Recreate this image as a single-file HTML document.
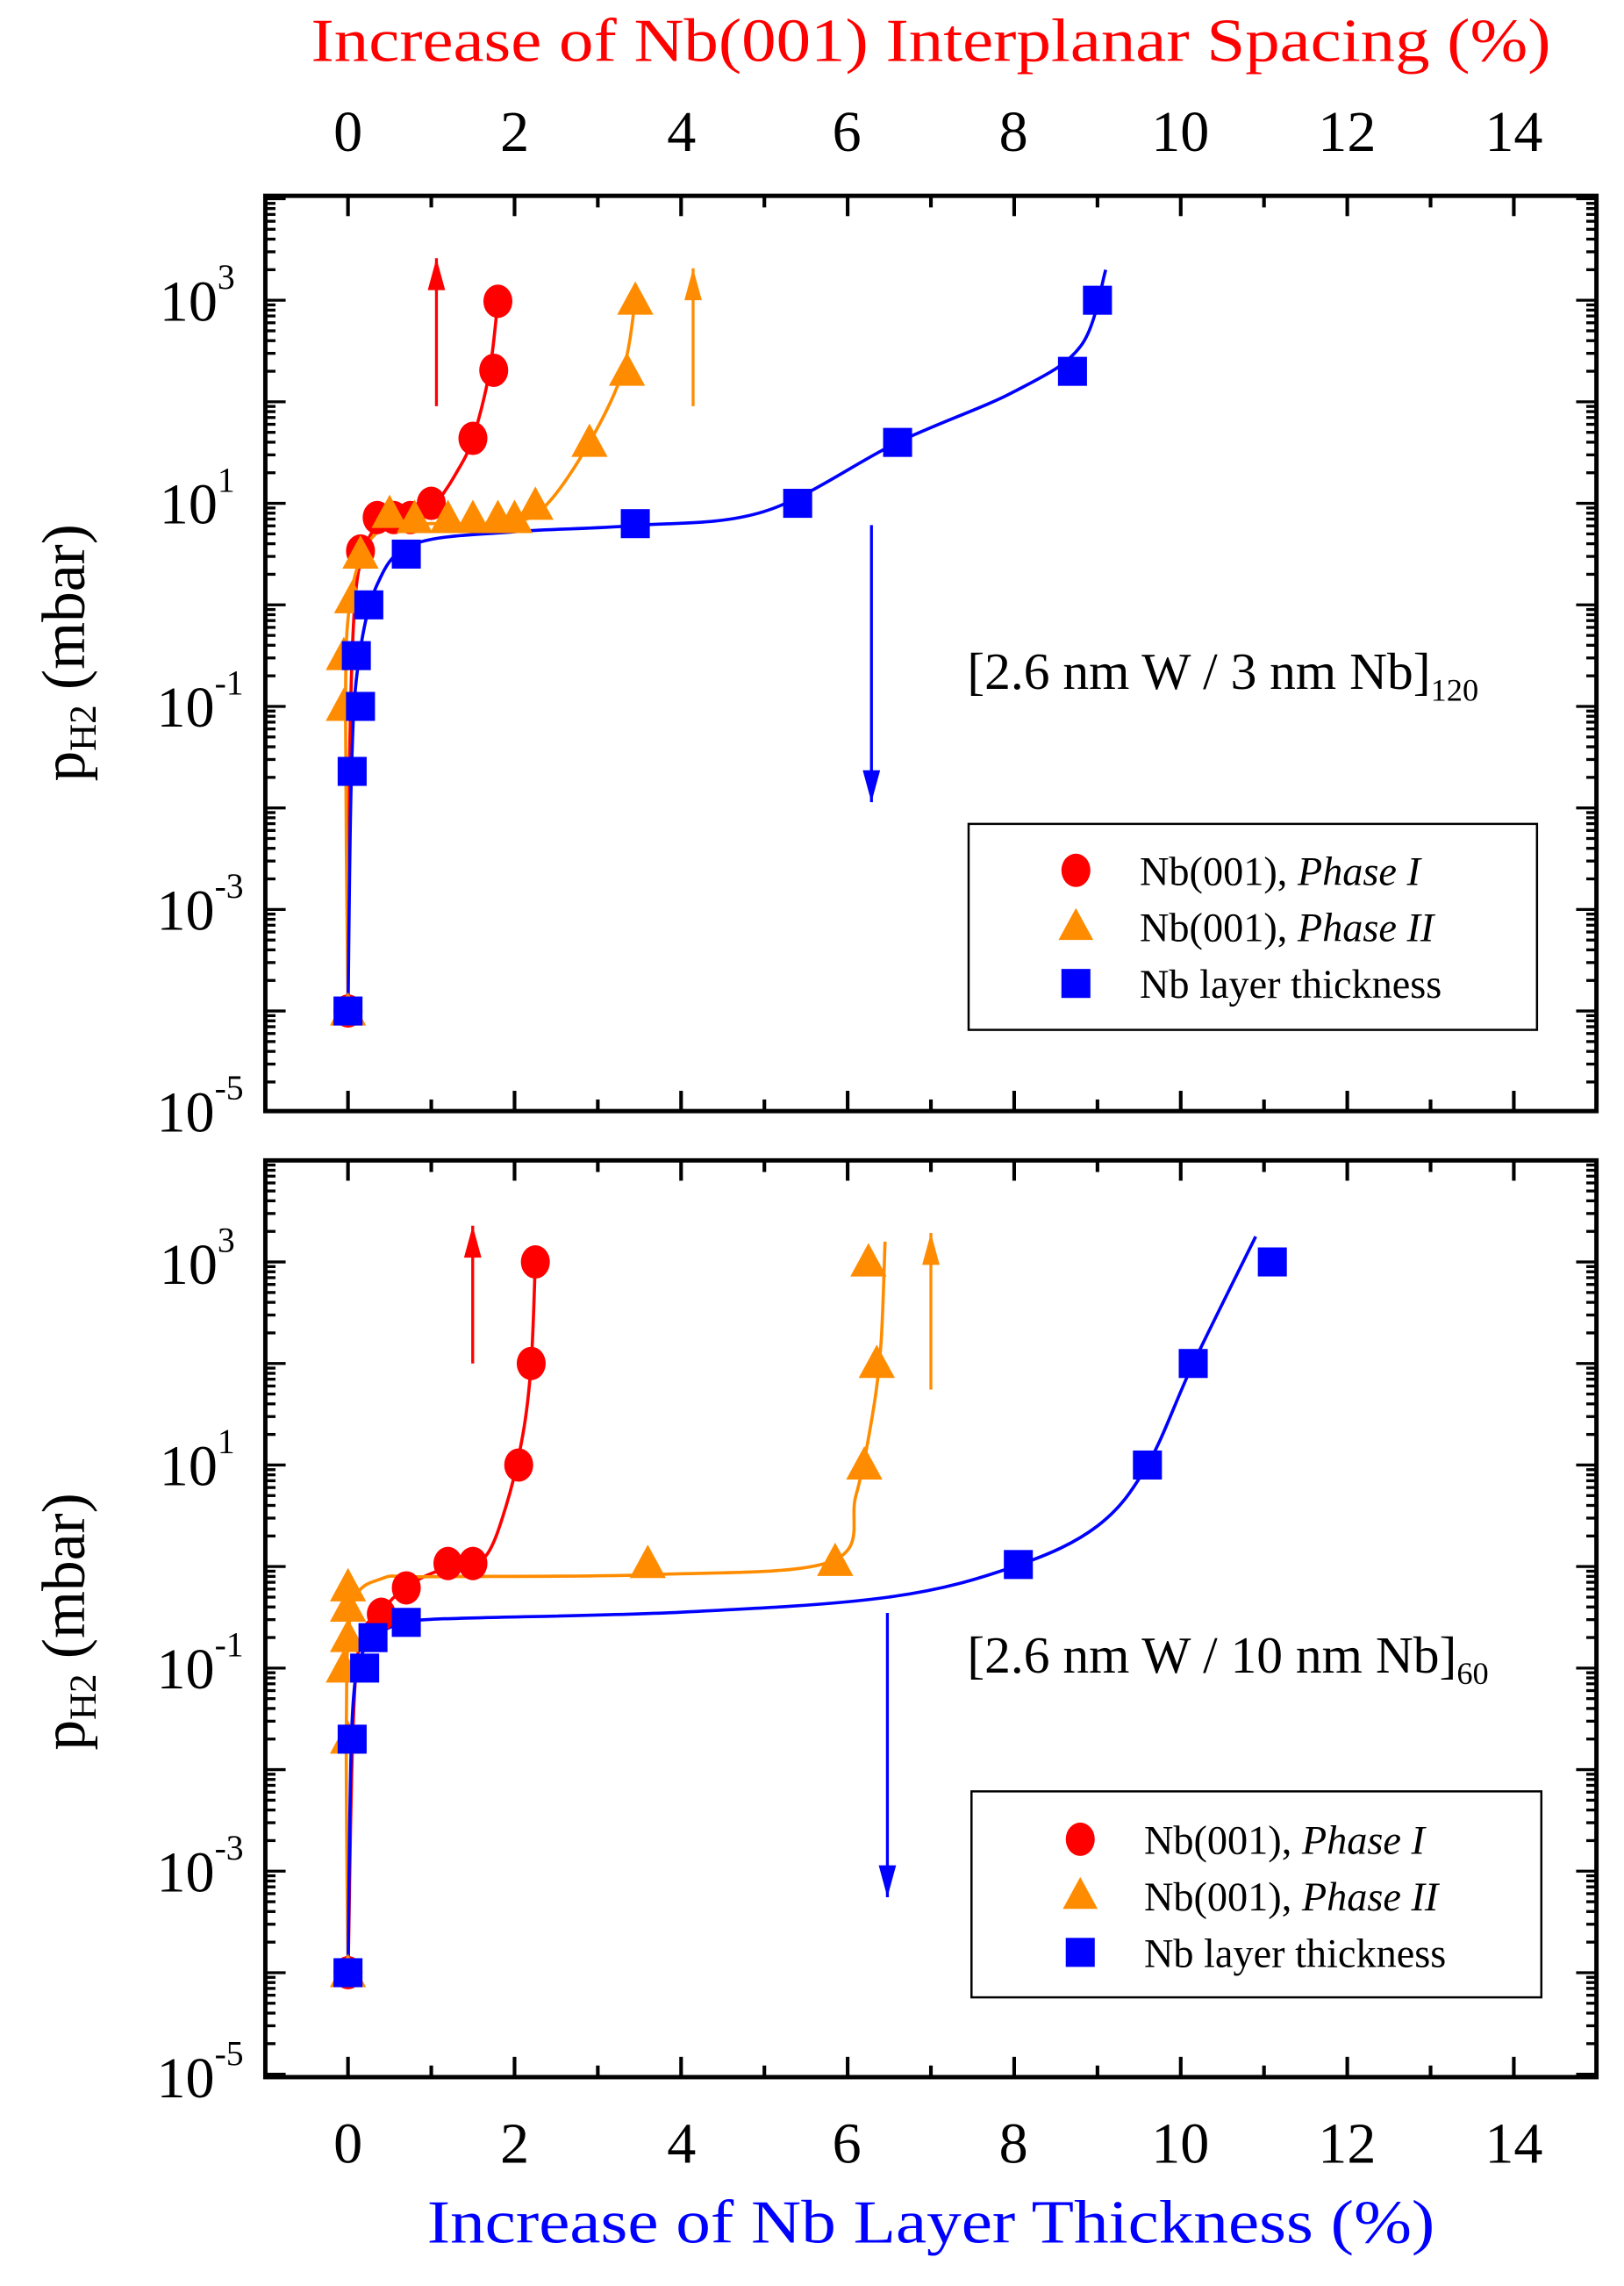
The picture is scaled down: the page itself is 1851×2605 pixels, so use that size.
<!DOCTYPE html>
<html><head><meta charset="utf-8"><style>
html,body{margin:0;padding:0;background:#fff;}
svg{display:block;}
text{font-family:"Liberation Serif","Times New Roman",Times,serif;}
</style></head><body>
<svg id="s" width="1851" height="2605" viewBox="0 0 1120 1576" preserveAspectRatio="none" xmlns="http://www.w3.org/2000/svg" font-family="Liberation Serif, Times New Roman, serif">
<rect width="1120" height="1576" fill="#fff"/>
<text x="642" y="42" font-size="42" fill="#ff0000" text-anchor="middle" textLength="855" lengthAdjust="spacingAndGlyphs">Increase of Nb(001) Interplanar Spacing (%)</text>
<g font-size="40" text-anchor="middle">
<text x="240" y="104">0</text><text x="355" y="104">2</text><text x="470" y="104">4</text><text x="584" y="104">6</text><text x="699" y="104">8</text><text x="814" y="104">10</text><text x="929" y="104">12</text><text x="1044" y="104">14</text>
<text x="240" y="1491">0</text><text x="355" y="1491">2</text><text x="470" y="1491">4</text><text x="584" y="1491">6</text><text x="699" y="1491">8</text><text x="814" y="1491">10</text><text x="929" y="1491">12</text><text x="1044" y="1491">14</text>
</g>
<text x="642" y="1546" font-size="42" fill="#0000ff" text-anchor="middle" textLength="695" lengthAdjust="spacingAndGlyphs">Increase of Nb Layer Thickness (%)</text>
<g font-size="40" text-anchor="end">
<text x="162" y="221">10<tspan font-size="24" dy="-22">3</tspan></text>
<text x="162" y="361">10<tspan font-size="24" dy="-22">1</tspan></text>
<text x="168" y="501">10<tspan font-size="24" dy="-22">-1</tspan></text>
<text x="168" y="641">10<tspan font-size="24" dy="-22">-3</tspan></text>
<text x="168" y="780">10<tspan font-size="24" dy="-22">-5</tspan></text>
<text x="162" y="885">10<tspan font-size="24" dy="-22">3</tspan></text>
<text x="162" y="1024">10<tspan font-size="24" dy="-22">1</tspan></text>
<text x="168" y="1164">10<tspan font-size="24" dy="-22">-1</tspan></text>
<text x="168" y="1304">10<tspan font-size="24" dy="-22">-3</tspan></text>
<text x="168" y="1446">10<tspan font-size="24" dy="-22">-5</tspan></text>
</g>
<text transform="translate(58,450) rotate(-90)" font-size="42" text-anchor="middle">p<tspan font-size="26" dy="8">H2</tspan><tspan dy="-8"> (mbar)</tspan></text>
<text transform="translate(58,1118) rotate(-90)" font-size="42" text-anchor="middle">p<tspan font-size="26" dy="8">H2</tspan><tspan dy="-8"> (mbar)</tspan></text>
<text x="667" y="475" font-size="36">[2.6 nm W / 3 nm Nb]<tspan font-size="22" dy="8">120</tspan></text>
<text x="667" y="1153" font-size="36">[2.6 nm W / 10 nm Nb]<tspan font-size="22" dy="8">60</tspan></text>
<rect x="668" y="568" width="392" height="142" fill="none" stroke="#000" stroke-width="1.5"/>
<rect x="670" y="1235" width="393" height="142" fill="none" stroke="#000" stroke-width="1.5"/>
<g font-size="28">
<text x="786" y="610">Nb(001), <tspan font-style="italic">Phase I</tspan></text>
<text x="786" y="649">Nb(001), <tspan font-style="italic">Phase II</tspan></text>
<text x="786" y="688">Nb layer thickness</text>
<text x="789" y="1278">Nb(001), <tspan font-style="italic">Phase I</tspan></text>
<text x="789" y="1317">Nb(001), <tspan font-style="italic">Phase II</tspan></text>
<text x="789" y="1356">Nb layer thickness</text>
</g>
<g id="g"></g>
</svg>
<script>
var g=document.getElementById('g'),NS="http://www.w3.org/2000/svg";
function el(t,a){var e=document.createElementNS(NS,t);for(var k in a)e.setAttribute(k,a[k]);g.appendChild(e);return e;}
function X(v){return 240+v*57.43;}
function mkY(y1){return function(l){return y1-(l-1)*70;};}
var L=183,R=1101;
function panel(top,bot,y1){
 var Y=mkY(y1);
 el('rect',{x:L,y:top,width:R-L,height:bot-top,fill:'none',stroke:'#000','stroke-width':3});
 for(var v=-1;v<=15;v++){var x=X(v);if(x<L||x>R)continue;var len=(v%2==0)?14:8;
  el('line',{x1:x,y1:top,x2:x,y2:top+len,stroke:'#000','stroke-width':2.5});
  el('line',{x1:x,y1:bot,x2:x,y2:bot-len,stroke:'#000','stroke-width':2.5});}
 for(var d=-5;d<=4;d++){for(var k=1;k<=9;k++){var y=Y(d+Math.log10(k));if(y<top-0.5||y>bot+0.5)continue;var len=(k==1)?14:7;
  el('line',{x1:L,y1:y,x2:L+len,y2:y,stroke:'#000','stroke-width':2});
  el('line',{x1:R,y1:y,x2:R-len,y2:y,stroke:'#000','stroke-width':2});}}
 return Y;
}
function curve(pts,Y,c){var P=pts.map(function(p){return [X(p[0]),Y(p[1])];});
 var s='M'+P[0][0].toFixed(1)+','+P[0][1].toFixed(1);
 for(var i=0;i<P.length-1;i++){var p0=P[Math.max(i-1,0)],p1=P[i],p2=P[i+1],p3=P[Math.min(i+2,P.length-1)];
  var c1=[p1[0]+(p2[0]-p0[0])/6,p1[1]+(p2[1]-p0[1])/6],c2=[p2[0]-(p3[0]-p1[0])/6,p2[1]-(p3[1]-p1[1])/6];
  s+='C'+c1[0].toFixed(1)+','+c1[1].toFixed(1)+' '+c2[0].toFixed(1)+','+c2[1].toFixed(1)+' '+p2[0].toFixed(1)+','+p2[1].toFixed(1);}
 el('path',{d:s,fill:'none',stroke:c,'stroke-width':2.2});}
function circ(pts,Y){pts.forEach(function(p){el('ellipse',{cx:X(p[0]),cy:Y(p[1]),rx:10,ry:11.5,fill:'#ff0000'});});}
function tri(pts,Y){pts.forEach(function(p){var x=X(p[0]),y=Y(p[1]);el('polygon',{points:(x-12.5)+','+(y+10)+' '+(x+12.5)+','+(y+10)+' '+x+','+(y-13),fill:'#ff8c00'});});}
function sq(pts,Y){pts.forEach(function(p){var x=X(p[0]),y=Y(p[1]);el('rect',{x:x-10,y:y-10,width:20,height:20,fill:'#0000ff'});});}
function arrow(x,ya,yb,c){el('line',{x1:x,y1:ya,x2:x,y2:yb,stroke:c,'stroke-width':2});var dir=yb<ya?1:-1;
 el('polygon',{points:(x-6)+','+(yb+dir*22)+' '+(x+6)+','+(yb+dir*22)+' '+x+','+yb,fill:c});}
// top
var Y=panel(135,766,347);
curve([[0,-4],[0.02,-1.5],[0.08,0],[0.2,0.55],[0.4,0.8],[0.8,0.86],[1.05,1.0],[1.3,1.3],[1.5,1.64],[1.7,2.3],[1.8,3.0]],Y,'#ff0000');
curve([[0,-4],[-0.03,-1],[0.02,0],[0.2,0.55],[0.5,0.78],[1,0.8],[2,0.82],[2.4,1.0],[2.9,1.6],[3.3,2.3],[3.45,3.0]],Y,'#ff8c00');
curve([[0,-4],[0.04,-1.7],[0.12,-0.6],[0.35,0.2],[0.8,0.6],[2,0.72],[3.4,0.78],[5.0,0.92],[6.6,1.6],[8.0,2.1],[8.8,2.55],[9.1,3.3]],Y,'#0000ff');
circ([[0,-4],[0.15,0.53],[0.35,0.86],[0.55,0.86],[0.75,0.86],[1.0,1.0],[1.5,1.64],[1.75,2.31],[1.8,2.99]],Y);
tri([[0,-4],[-0.05,-1],[-0.05,-0.5],[0.05,0.06],[0.15,0.5],[0.5,0.9],[0.8,0.85],[1.2,0.85],[1.5,0.85],[1.8,0.85],[2.0,0.85],[2.25,0.98],[2.9,1.6],[3.35,2.3],[3.45,3.0]],Y);
sq([[0,-4],[0.05,-1.64],[0.15,-1.0],[0.1,-0.5],[0.25,0.0],[0.7,0.5],[3.45,0.8],[5.4,1.0],[6.6,1.6],[8.7,2.3],[9.0,3.0]],Y);
arrow(301,280,178,'#ff0000');arrow(478,280,185,'#ff8c00');arrow(601,362,553,'#0000ff');
// bottom
var Y2=panel(800,1432,1010);
curve([[0,-4],[0.1,-1],[0.4,-0.45],[0.8,-0.15],[1.3,0.02],[1.65,0.1],[1.9,0.6],[2.1,1.3],[2.2,2],[2.25,3]],Y2,'#ff0000');
curve([[0,-4],[-0.02,-1.5],[0.05,-0.4],[0.4,-0.12],[1,-0.1],[3.6,-0.08],[5.8,0.05],[6.1,0.7],[6.3,1.5],[6.4,2.2],[6.45,3.2]],Y2,'#ff8c00');
curve([[0,-4],[0.05,-1.5],[0.2,-0.8],[0.5,-0.6],[1,-0.52],[4,-0.45],[6.5,-0.3],[8,0.0],[9.0,0.4],[9.6,1.0],[10.15,2],[10.9,3.25]],Y2,'#0000ff');
circ([[0,-4],[0.4,-0.47],[0.7,-0.21],[1.2,0.03],[1.5,0.03],[2.05,1],[2.2,2],[2.25,3]],Y2);
tri([[0,-4],[0,-1.7],[-0.05,-1],[0,-0.7],[0,-0.4],[0,-0.2],[3.6,0.03],[5.85,0.05],[6.2,1],[6.35,2],[6.25,3]],Y2);
sq([[0,-4],[0.05,-1.7],[0.2,-1],[0.3,-0.7],[0.7,-0.55],[8.05,0.02],[9.6,1],[10.15,2],[11.1,3]],Y2);
arrow(326,940,845,'#ff0000');arrow(642,958,850,'#ff8c00');arrow(612,1112,1308,'#0000ff');
// legend markers
el('ellipse',{cx:742,cy:600,rx:10,ry:11.5,fill:'#ff0000'});
el('polygon',{points:'730,648 754,648 742,626',fill:'#ff8c00'});
el('rect',{x:732,y:668,width:20,height:20,fill:'#0000ff'});
el('ellipse',{cx:745,cy:1268,rx:10,ry:11.5,fill:'#ff0000'});
el('polygon',{points:'733,1316 757,1316 745,1294',fill:'#ff8c00'});
el('rect',{x:735,y:1336,width:20,height:20,fill:'#0000ff'});
</script>
</body></html>
